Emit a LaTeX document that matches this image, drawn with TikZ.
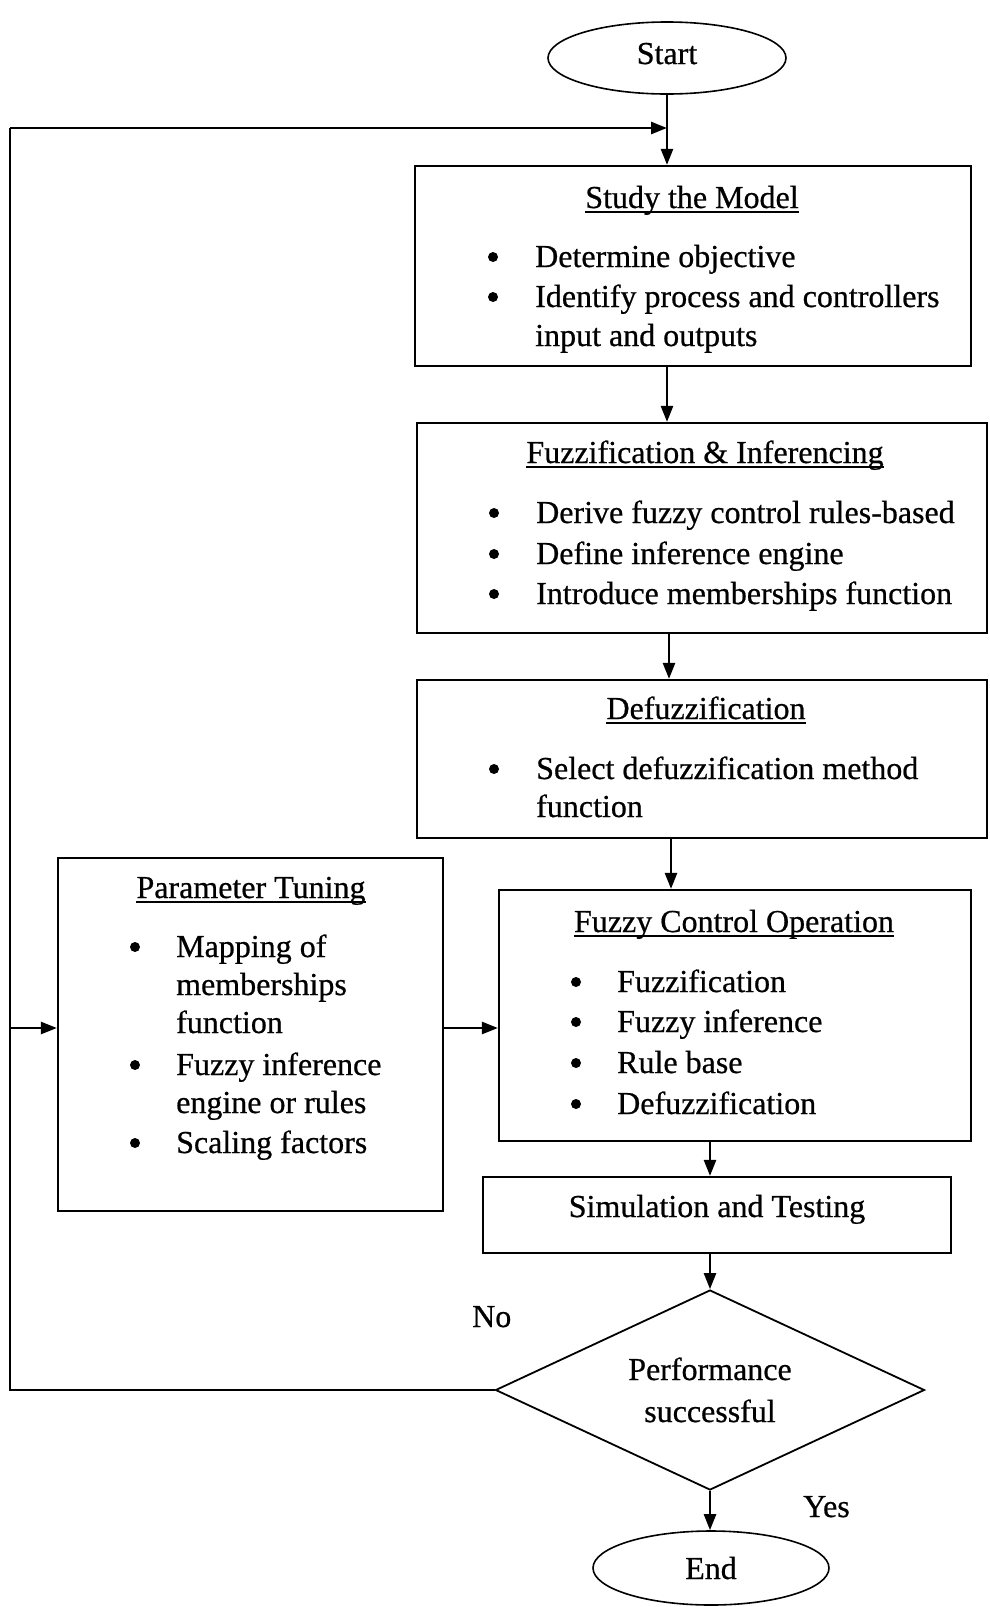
\documentclass[tikz,border=0pt]{standalone}
\usepackage{fontspec}
\setmainfont{Liberation Serif}[FakeBold=0.6]
\usetikzlibrary{shapes.geometric,arrows.meta}
\newcommand\bodyfont{\fontsize{32}{39}\selectfont}
\begin{document}
\begin{tikzpicture}[x=1pt,y=-1pt,
  box/.style={draw,line width=2.2pt,rectangle,inner sep=0pt},
  term/.style={draw,line width=1.6pt,ellipse,inner sep=0pt},
  decision/.style={draw,line width=1.8pt,diamond,inner sep=0pt},
  flow/.style={line width=2.5pt,-{Triangle[length=16pt,width=12pt]}},
  rail/.style={line width=2.5pt},
  txt/.style={anchor=base west,inner sep=0pt,font=\bodyfont},
  ttl/.style={anchor=base,inner sep=0pt,font=\bodyfont},
  bul/.style={circle,fill,inner sep=0pt,minimum size=10pt},
  uline/.style={line width=2pt}
]
\useasboundingbox (0,0) rectangle (989,1607);

% terminals
\node[term,minimum width=238pt,minimum height=72pt] (start) at (667,58) {};
\node[ttl] (startt) at (667,64) {Start};
\node[term,minimum width=236pt,minimum height=74pt] (end) at (711,1568) {};
\node[ttl] (endt) at (711,1579) {End};

% process boxes
\node[box,minimum width=556pt,minimum height=200pt] (study) at (693,266) {};
\node[box,minimum width=570pt,minimum height=210pt] (fuzz) at (702,528) {};
\node[box,minimum width=570pt,minimum height=158pt] (defuzz) at (702,759) {};
\node[box,minimum width=472pt,minimum height=251pt] (fco) at (735,1015.5) {};
\node[box,minimum width=385pt,minimum height=353pt] (pt) at (250.5,1034.5) {};
\node[box,minimum width=468pt,minimum height=76pt] (sim) at (717,1215) {};
\node[decision,minimum width=429pt,minimum height=200pt] (dia) at (710,1390) {};

% Study the Model
\node[ttl] (t1) at (692,208) {Study the Model};
\draw[uline] ([yshift=-4pt]t1.base west) -- ([yshift=-4pt]t1.base east);
\node[bul] (b11) at (493,257) {};
\node[txt] (l11) at (535,267) {Determine objective};
\node[bul] (b12) at (493,297) {};
\node[txt] (l12) at (535,307) {Identify process and controllers};
\node[txt] (l13) at (535,346) {input and outputs};

% Fuzzification & Inferencing
\node[ttl] (t2) at (705,463) {Fuzzification \& Inferencing};
\draw[uline] ([yshift=-4pt]t2.base west) -- ([yshift=-4pt]t2.base east);
\node[bul] (b21) at (494,513) {};
\node[txt] (l21) at (536,523) {Derive fuzzy control rules-based};
\node[bul] (b22) at (494,554) {};
\node[txt] (l22) at (536,564) {Define inference engine};
\node[bul] (b23) at (494,594) {};
\node[txt] (l23) at (536,604) {Introduce memberships function};

% Defuzzification
\node[ttl] (t3) at (706,719) {Defuzzification};
\draw[uline] ([yshift=-4pt]t3.base west) -- ([yshift=-4pt]t3.base east);
\node[bul] (b31) at (494,769) {};
\node[txt] (l31) at (536,779) {Select defuzzification method};
\node[txt] (l32) at (536,817) {function};

% Fuzzy Control Operation
\node[ttl] (t4) at (734,932) {Fuzzy Control Operation};
\draw[uline] ([yshift=-4pt]t4.base west) -- ([yshift=-4pt]t4.base east);
\node[bul] (b41) at (576,982) {};
\node[txt] (l41) at (617,992) {Fuzzification};
\node[bul] (b42) at (576,1022) {};
\node[txt] (l42) at (617,1032) {Fuzzy inference};
\node[bul] (b43) at (576,1063) {};
\node[txt] (l43) at (617,1073) {Rule base};
\node[bul] (b44) at (576,1104) {};
\node[txt] (l44) at (617,1114) {Defuzzification};

% Parameter Tuning
\node[ttl] (t5) at (251,898) {Parameter Tuning};
\draw[uline] ([yshift=-4pt]t5.base west) -- ([yshift=-4pt]t5.base east);
\node[bul] (b51) at (135,947) {};
\node[txt] (l51) at (176,957) {Mapping of};
\node[txt] (l52) at (176,995) {memberships};
\node[txt] (l53) at (176,1033) {function};
\node[bul] (b54) at (135,1065) {};
\node[txt] (l54) at (176,1075) {Fuzzy inference};
\node[txt] (l55) at (176,1113) {engine or rules};
\node[bul] (b56) at (135,1143) {};
\node[txt] (l56) at (176,1153) {Scaling factors};

% Simulation and decision
\node[ttl] (t6) at (717,1217) {Simulation and Testing};
\node[ttl] (d1) at (710,1380) {Performance};
\node[ttl] (d2) at (710,1422) {successful};
\node[txt] (no) at (472,1327) {No};
\node[txt] (yes) at (803,1517) {Yes};

% connectors
\coordinate (join) at (667,128);
\coordinate (railtop) at (10,128);
\coordinate (midrow) at (0,1028);
\draw[flow] (start.south) -- (start.south |- study.north);
\draw[flow] (railtop) -- (join);
\draw[rail] (dia.west) -- (railtop |- dia.west) -- (railtop);
\draw[flow] (start.south |- study.south) -- (start.south |- fuzz.north);
\draw[flow] ([xshift=2pt]start.south |- fuzz.south) -- ([xshift=2pt]start.south |- defuzz.north);
\draw[flow] ([xshift=4pt]start.south |- defuzz.south) -- ([xshift=4pt]start.south |- fco.north);
\draw[flow] (railtop |- midrow) -- (pt.west |- midrow);
\draw[flow] (pt.east |- midrow) -- (fco.west |- midrow);
\draw[flow] (dia.north |- fco.south) -- (dia.north |- sim.north);
\draw[flow] (dia.north |- sim.south) -- (dia.north);
\draw[flow] (dia.south) -- (dia.south |- end.north);
\end{tikzpicture}
\end{document}
